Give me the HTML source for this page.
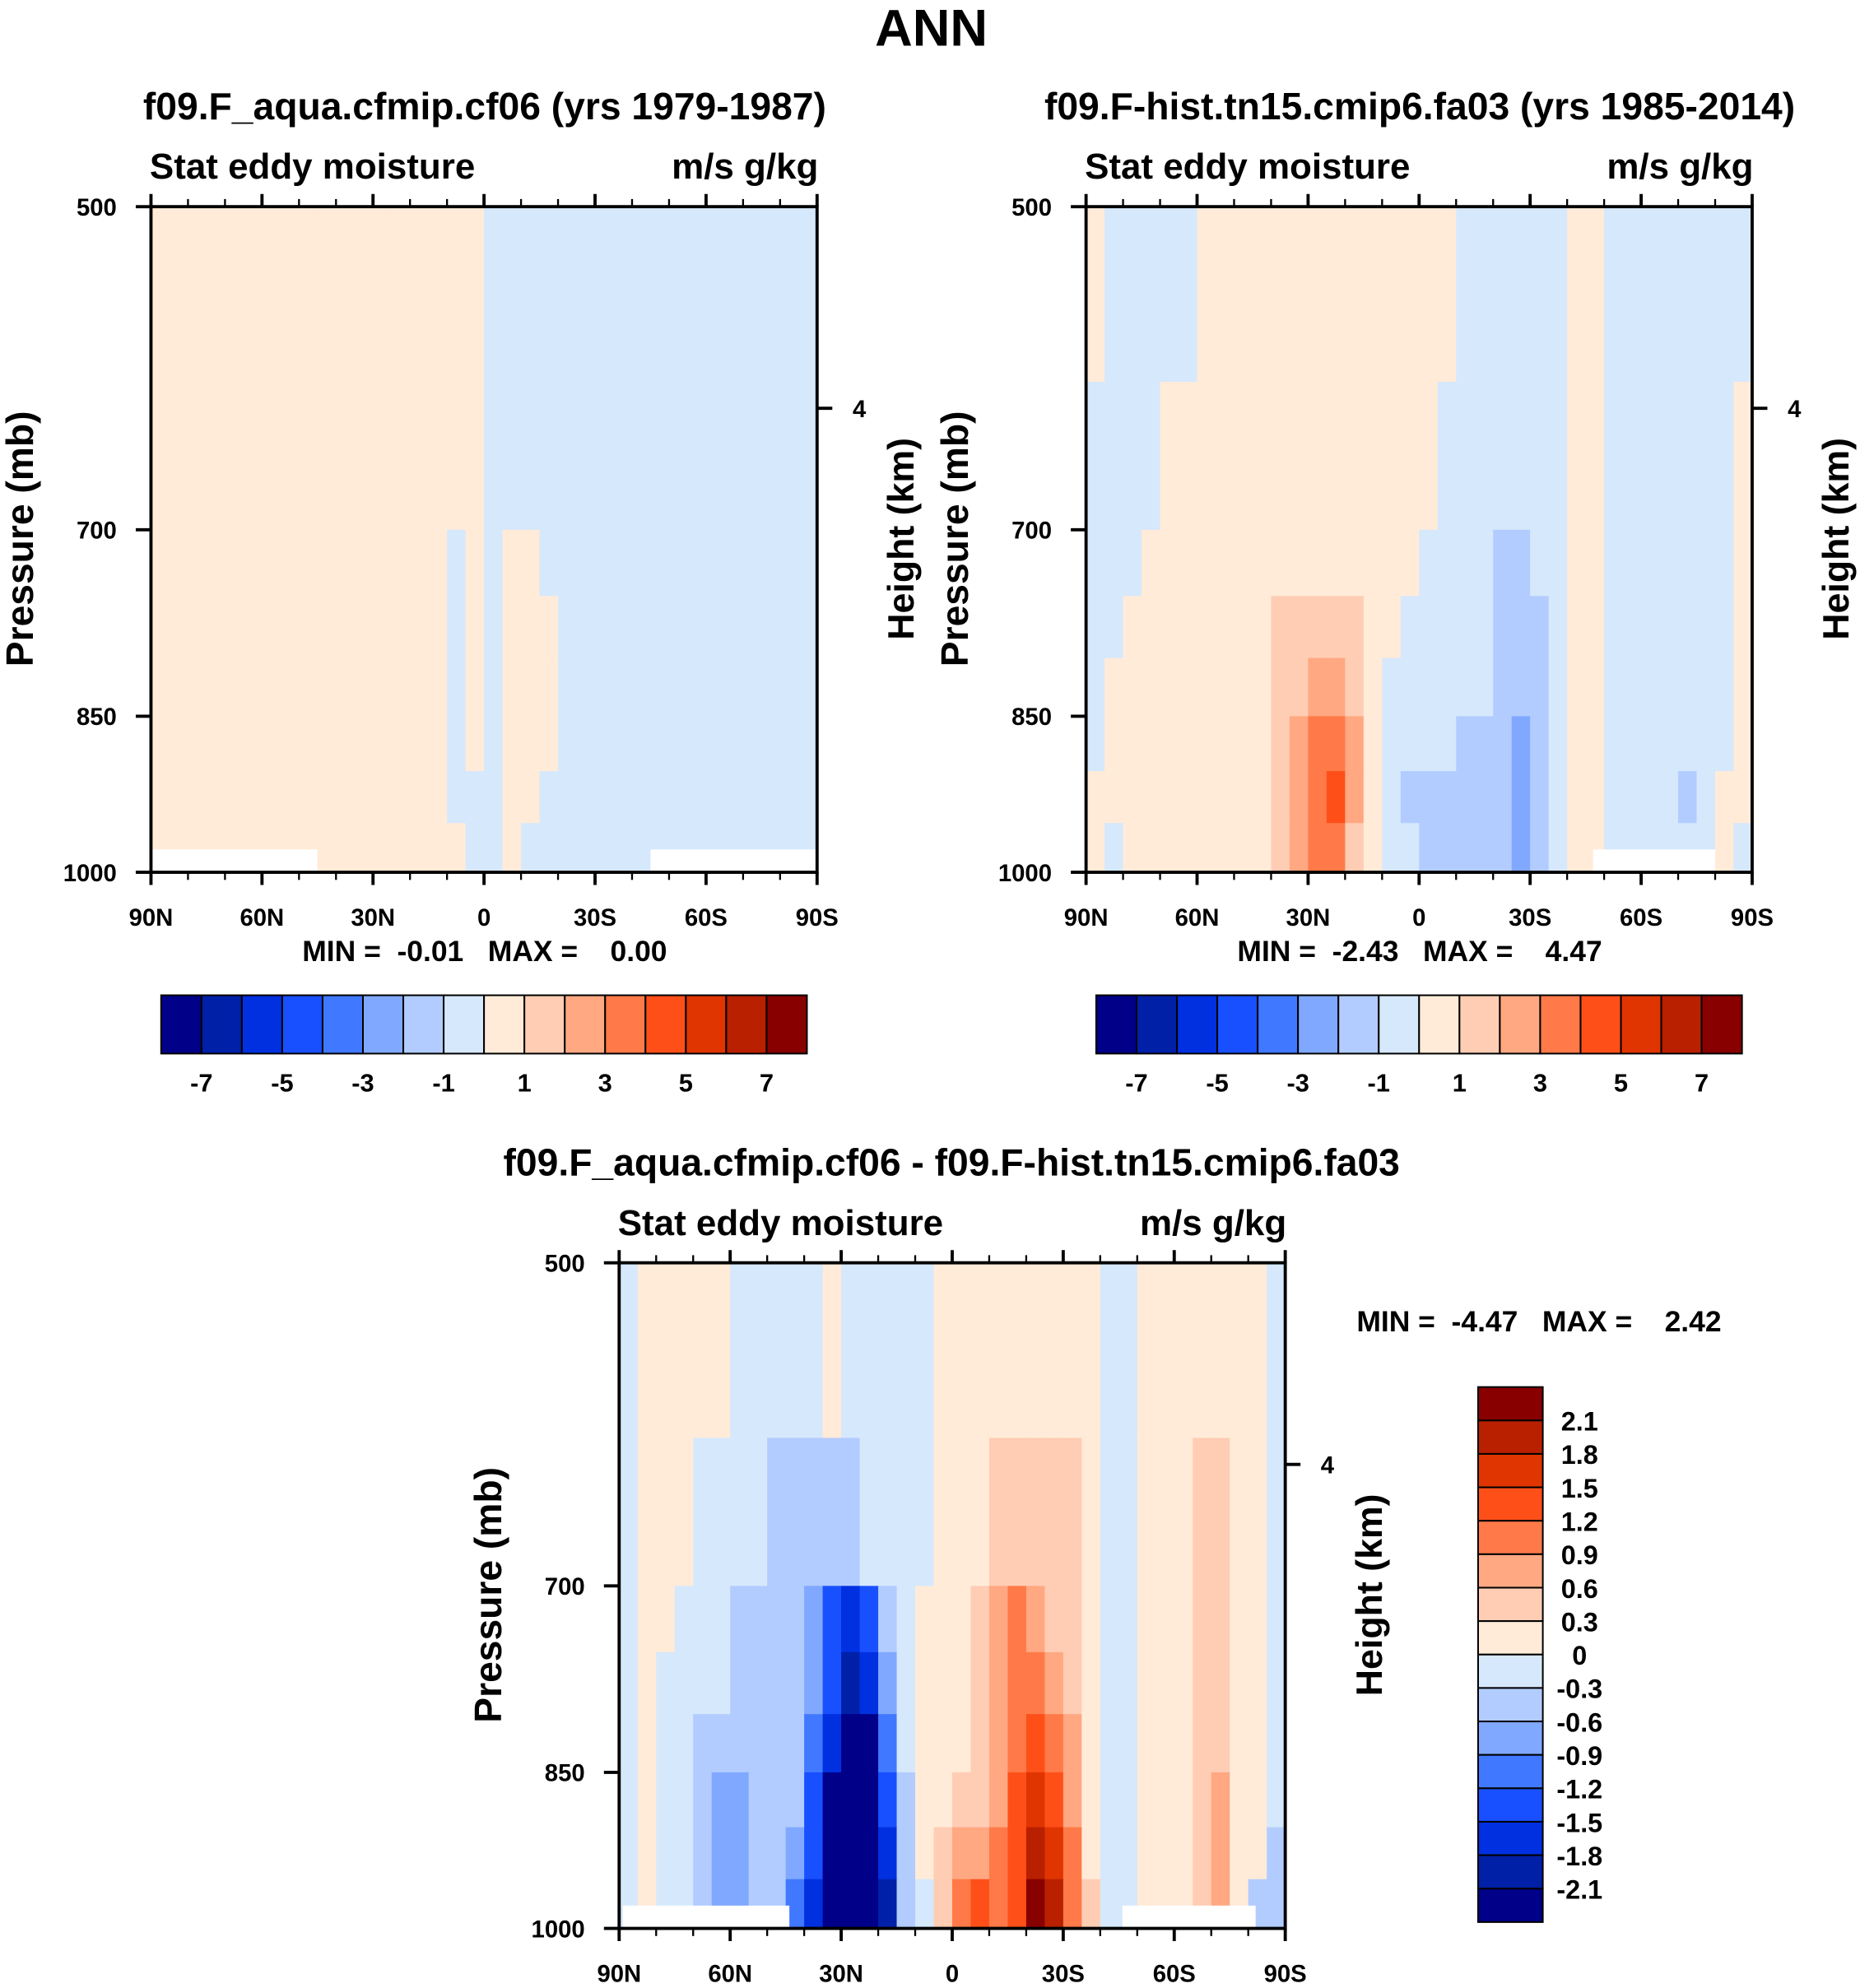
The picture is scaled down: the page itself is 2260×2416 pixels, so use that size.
<!DOCTYPE html>
<html><head><meta charset="utf-8"><style>
html,body{margin:0;padding:0;background:#fff;}
svg{display:block;}
text{font-family:"Liberation Sans",Arial,sans-serif;font-weight:bold;fill:#000;white-space:pre;}
</style></head><body>
<svg id="chart" xmlns="http://www.w3.org/2000/svg" width="2260" height="2416" viewBox="0 0 1466 1568" preserveAspectRatio="none" xml:space="preserve">
<rect x="0" y="0" width="1466" height="1568" fill="#fff"/>
<text x="734" y="36" text-anchor="middle" font-size="41">ANN</text>
</svg>
<script>
// ---- data arrays ----
const latLabels = ["90N","60N","30N","0","30S","60S","90S"];
const latTicks = [90,60,30,0,-30,-60,-90];
const presTicks = [500,700,850,1000];
const presBounds = [500,600,700,750,800,850,900,950,1000];
const levels12 = [-7,-6,-5,-4,-3,-2,-1,0,1,2,3,4,5,6,7];
const levels3 = [-2.1,-1.8,-1.5,-1.2,-0.9,-0.6,-0.3,0,0.3,0.6,0.9,1.2,1.5,1.8,2.1];
const labels12 = ["-7","-5","-3","-1","1","3","5","7"];
const labels3 = ["2.1","1.8","1.5","1.2","0.9","0.6","0.3","0","-0.3","-0.6","-0.9","-1.2","-1.5","-1.8","-2.1"];
const palette = ["#000088","#0020a8","#0030e0","#1850ff","#4078ff","#80a8ff","#b2ccff","#d6e8fc","#ffebd8","#ffcdb4","#ffa882","#ff7a48","#ff4f18","#e03500","#b82000","#880000"];

// panel 1 : 36 lat columns (90N->90S, 5deg), 8 pressure rows
const p1Values = [
[.5,.5,.5,.5,.5,.5,.5,.5,.5,.5,.5,.5,.5,.5,.5,.5,.5,.5,-.5,-.5,-.5,-.5,-.5,-.5,-.5,-.5,-.5,-.5,-.5,-.5,-.5,-.5,-.5,-.5,-.5,-.5],
[.5,.5,.5,.5,.5,.5,.5,.5,.5,.5,.5,.5,.5,.5,.5,.5,.5,.5,-.5,-.5,-.5,-.5,-.5,-.5,-.5,-.5,-.5,-.5,-.5,-.5,-.5,-.5,-.5,-.5,-.5,-.5],
[.5,.5,.5,.5,.5,.5,.5,.5,.5,.5,.5,.5,.5,.5,.5,.5,-.5,.5,-.5,.5,.5,-.5,-.5,-.5,-.5,-.5,-.5,-.5,-.5,-.5,-.5,-.5,-.5,-.5,-.5,-.5],
[.5,.5,.5,.5,.5,.5,.5,.5,.5,.5,.5,.5,.5,.5,.5,.5,-.5,.5,-.5,.5,.5,.5,-.5,-.5,-.5,-.5,-.5,-.5,-.5,-.5,-.5,-.5,-.5,-.5,-.5,-.5],
[.5,.5,.5,.5,.5,.5,.5,.5,.5,.5,.5,.5,.5,.5,.5,.5,-.5,.5,-.5,.5,.5,.5,-.5,-.5,-.5,-.5,-.5,-.5,-.5,-.5,-.5,-.5,-.5,-.5,-.5,-.5],
[.5,.5,.5,.5,.5,.5,.5,.5,.5,.5,.5,.5,.5,.5,.5,.5,-.5,.5,-.5,.5,.5,.5,-.5,-.5,-.5,-.5,-.5,-.5,-.5,-.5,-.5,-.5,-.5,-.5,-.5,-.5],
[.5,.5,.5,.5,.5,.5,.5,.5,.5,.5,.5,.5,.5,.5,.5,.5,-.5,-.5,-.5,.5,.5,-.5,-.5,-.5,-.5,-.5,-.5,-.5,-.5,-.5,-.5,-.5,-.5,-.5,-.5,-.5],
[.5,.5,.5,.5,.5,.5,.5,.5,.5,.5,.5,.5,.5,.5,.5,.5,.5,-.5,-.5,.5,-.5,-.5,-.5,-.5,-.5,-.5,-.5,-.5,-.5,-.5,-.5,-.5,-.5,-.5,-.5,-.5]
];
const p2Values = [
[.5,-.5,-.5,-.5,-.5,-.5,.5,.5,.5,.5,.5,.5,.5,.5,.5,.5,.5,.5,.5,.5,-.5,-.5,-.5,-.5,-.5,-.5,.5,.5,-.5,-.5,-.5,-.5,-.5,-.5,-.5,-.5],
[-.5,-.5,-.5,-.5,.5,.5,.5,.5,.5,.5,.5,.5,.5,.5,.5,.5,.5,.5,.5,-.5,-.5,-.5,-.5,-.5,-.5,-.5,.5,.5,-.5,-.5,-.5,-.5,-.5,-.5,-.5,.5],
[-.5,-.5,-.5,.5,.5,.5,.5,.5,.5,.5,.5,.5,.5,.5,.5,.5,.5,.5,-.5,-.5,-.5,-.5,-1.5,-1.5,-.5,-.5,.5,.5,-.5,-.5,-.5,-.5,-.5,-.5,-.5,.5],
[-.5,-.5,.5,.5,.5,.5,.5,.5,.5,.5,1.5,1.5,1.5,1.5,1.5,.5,.5,-.5,-.5,-.5,-.5,-.5,-1.5,-1.5,-1.5,-.5,.5,.5,-.5,-.5,-.5,-.5,-.5,-.5,-.5,.5],
[-.5,.5,.5,.5,.5,.5,.5,.5,.5,.5,1.5,1.5,2.5,2.5,1.5,.5,-.5,-.5,-.5,-.5,-.5,-.5,-1.5,-1.5,-1.5,-.5,.5,.5,-.5,-.5,-.5,-.5,-.5,-.5,-.5,.5],
[-.5,.5,.5,.5,.5,.5,.5,.5,.5,.5,1.5,2.5,3.5,3.5,2.5,.5,-.5,-.5,-.5,-.5,-1.5,-1.5,-1.5,-2.5,-1.5,-.5,.5,.5,-.5,-.5,-.5,-.5,-.5,-.5,-.5,.5],
[.5,.5,.5,.5,.5,.5,.5,.5,.5,.5,1.5,2.5,3.5,4.5,2.5,.5,-.5,-1.5,-1.5,-1.5,-1.5,-1.5,-1.5,-2.5,-1.5,-.5,.5,.5,-.5,-.5,-.5,-.5,-1.5,-.5,.5,.5],
[.5,-.5,.5,.5,.5,.5,.5,.5,.5,.5,1.5,2.5,3.5,3.5,1.5,.5,-.5,-.5,-1.5,-1.5,-1.5,-1.5,-1.5,-2.5,-1.5,-.5,.5,.5,-.5,-.5,-.5,-.5,-.5,-.5,.5,-.5]
];
const p3Values = [
[-.15,.15,.15,.15,.15,.15,-.15,-.15,-.15,-.15,-.15,.15,-.15,-.15,-.15,-.15,-.15,.15,.15,.15,.15,.15,.15,.15,.15,.15,-.15,-.15,.15,.15,.15,.15,.15,.15,.15,-.15],
[-.15,.15,.15,.15,-.15,-.15,-.15,-.15,-.45,-.45,-.45,-.45,-.45,-.15,-.15,-.15,-.15,.15,.15,.15,.45,.45,.45,.45,.45,.15,-.15,-.15,.15,.15,.15,.45,.45,.15,.15,-.15],
[-.15,.15,.15,-.15,-.15,-.15,-.45,-.45,-.45,-.45,-.75,-1.35,-1.65,-1.35,-.45,-.15,.15,.15,.15,.45,.75,1.05,.75,.45,.45,.15,-.15,-.15,.15,.15,.15,.45,.45,.15,.15,-.15],
[-.15,.15,-.15,-.15,-.15,-.15,-.45,-.45,-.45,-.45,-.75,-1.35,-1.95,-1.65,-.75,-.15,.15,.15,.15,.45,.75,1.05,1.05,.75,.45,.15,-.15,-.15,.15,.15,.15,.45,.45,.15,.15,-.15],
[-.15,.15,-.15,-.15,-.45,-.45,-.45,-.45,-.45,-.45,-1.05,-1.65,-2.25,-2.25,-1.05,-.15,.15,.15,.15,.45,.75,1.05,1.35,1.05,.75,.15,-.15,-.15,.15,.15,.15,.45,.45,.15,.15,-.15],
[-.15,.15,-.15,-.15,-.45,-.75,-.75,-.45,-.45,-.45,-1.35,-2.25,-2.25,-2.25,-1.35,-.45,.15,.15,.45,.45,.75,1.35,1.65,1.35,.75,.15,-.15,-.15,.15,.15,.15,.45,.75,.15,.15,-.15],
[-.15,.15,-.15,-.15,-.45,-.75,-.75,-.45,-.45,-.75,-1.35,-2.25,-2.25,-2.25,-1.65,-.45,.15,.45,.75,.75,1.05,1.35,1.95,1.65,1.05,.15,-.15,-.15,.15,.15,.15,.45,.75,.15,.15,-.45],
[-.15,.15,-.15,-.15,-.45,-.75,-.75,-.45,-.45,-1.05,-1.65,-2.25,-2.25,-2.25,-1.95,-.45,-.15,.45,1.05,1.35,1.05,1.35,2.25,1.95,1.05,.45,-.15,-.15,.15,.15,.15,.45,.75,.15,-.45,-.45]
];
const p1MinMax = ["-0.01","0.00"];
const p2MinMax = ["-2.43","4.47"];
const p3MinMax = ["-4.47","2.42"];

// ---- rendering ----
const NS = "http://www.w3.org/2000/svg";
const svg = document.getElementById("chart");
const PW = 525, PH = 525;
function mk(tag, attrs, parent){const e=document.createElementNS(NS,tag);for(const k in attrs)e.setAttribute(k,attrs[k]);(parent||svg).appendChild(e);return e;}
function xScale(x0, lat){return x0 + (90 - lat) / 180 * PW;}
function yScale(y0, p){return y0 + Math.log(p/500)/Math.log(2)*PH;}
function colorIdx(v, levels){let i=0;while(i<levels.length && v>=levels[i])i++;return i;}

function drawPanel(x0, y0, values, levels, name, whites){
  const g = mk("g",{});
  
  
  for(let r=0;r<values.length;r++){
    const ya=yScale(y0,presBounds[r]), yb=yScale(y0,presBounds[r+1]);
    for(let c=0;c<values[r].length;c++){
      const xa=xScale(x0,90-5*c), xb=xScale(x0,90-5*(c+1));
      const cell = mk("rect",{x:xa,y:ya,width:xb-xa+0.6,height:yb-ya+0.6,fill:palette[colorIdx(values[r][c],levels)]},g);
      
      
    }
  }
  whites.forEach(w=>{
    const wr = mk("rect",{x:xScale(x0,w[0]),y:y0+PH-18,width:xScale(x0,w[1])-xScale(x0,w[0]),height:18,fill:"#fff"},g);
    
    
  });
  const frame = mk("rect",{x:x0,y:y0,width:PW,height:PH,fill:"none",stroke:"#000","stroke-width":2.5});
  
  
  for(let lat=90;lat>=-90;lat-=10){
    const x=xScale(x0,lat), major=(lat%30===0);
    const len = major?10:6;
    mk("line",{x1:x,y1:y0,x2:x,y2:y0-len,stroke:"#000","stroke-width":major?2.5:1.5});
    mk("line",{x1:x,y1:y0+PH,x2:x,y2:y0+PH+len,stroke:"#000","stroke-width":major?2.5:1.5});
  }
  latTicks.forEach((lat,i)=>{
    const t=mk("text",{x:xScale(x0,lat),y:y0+PH+42,"text-anchor":"middle","font-size":19});
    t.textContent=latLabels[i];
    
    
  });
  presTicks.forEach(p=>{
    const y=yScale(y0,p);
    mk("line",{x1:x0,y1:y,x2:x0-12,y2:y,stroke:"#000","stroke-width":2.5});
    const t=mk("text",{x:x0-27,y:y+7,"text-anchor":"end","font-size":19});
    t.textContent=p;
    
    
  });
  const hy = y0+159;
  mk("line",{x1:x0+PW,y1:hy,x2:x0+PW+12,y2:hy,stroke:"#000","stroke-width":2.5});
  const ht=mk("text",{x:x0+PW+28,y:hy+7,"text-anchor":"start","font-size":19}); ht.textContent="4";
  
  
  const s1=mk("text",{x:x0-1,y:y0-22,"font-size":28.5}); s1.textContent="Stat eddy moisture";
  
  
  const s2=mk("text",{x:x0+PW+1,y:y0-22,"text-anchor":"end","font-size":28.5}); s2.textContent="m/s g/kg";
  
  
  const yl=mk("text",{x:0,y:0,"text-anchor":"middle","font-size":30,transform:`translate(${x0-93},${y0+262}) rotate(-90)`}); yl.textContent="Pressure (mb)";
  
  
  const hl=mk("text",{x:0,y:0,"text-anchor":"middle","font-size":29,transform:`translate(${x0+PW+76},${y0+262}) rotate(-90)`}); hl.textContent="Height (km)";
  
  
}

function title(x,y,txt,name,fs){const t=mk("text",{x:x,y:y,"text-anchor":"middle","font-size":fs||30});t.textContent=txt;return t;}

function hColorbar(x0,y0,w,h,name){
  const g=mk("g",{});
  
  
  const bw=w/palette.length;
  palette.forEach((c,i)=>{
    const b=mk("rect",{x:x0+i*bw,y:y0,width:bw,height:h,fill:c,stroke:"#000","stroke-width":1.3},g);
    
    
  });
  labels12.forEach((l,i)=>{
    const t=mk("text",{x:x0+(1+2*i)*bw,y:y0+h+30,"text-anchor":"middle","font-size":20},g);t.textContent=l;
    
    
  });
}
function vColorbar(x0,y0,w,h,name){
  const g=mk("g",{});
  
  
  const bh=h/palette.length;
  palette.slice().reverse().forEach((c,i)=>{
    const b=mk("rect",{x:x0,y:y0+i*bh,width:w,height:bh,fill:c,stroke:"#000","stroke-width":1.3},g);
    
    
  });
  labels3.forEach((l,i)=>{
    const t=mk("text",{x:x0+w+29,y:y0+(i+1)*bh+8,"text-anchor":"middle","font-size":21},g);t.textContent=l;
    
    
  });
}

title(382,94,"f09.F_aqua.cfmip.cf06 (yrs 1979-1987)","panel1-title");
drawPanel(119,163,p1Values,levels12,"panel1",[[90,45],[-45,-90]]);
title(382,758,"MIN =  "+p1MinMax[0]+"   MAX =    "+p1MinMax[1],"panel1-minmax",23);
hColorbar(127,785,509,46,"panel1-colorbar");
title(1119,94,"f09.F-hist.tn15.cmip6.fa03 (yrs 1985-2014)","panel2-title");
drawPanel(856,163,p2Values,levels12,"panel2",[[-47,-80]]);
title(1119,758,"MIN =  "+p2MinMax[0]+"   MAX =    "+p2MinMax[1],"panel2-minmax",23);
hColorbar(864,785,509,46,"panel2-colorbar");
title(750,927,"f09.F_aqua.cfmip.cf06 - f09.F-hist.tn15.cmip6.fa03","panel3-title");
drawPanel(488,996,p3Values,levels3,"panel3",[[89,44],[-46,-82]]);
title(1213,1050,"MIN =  "+p3MinMax[0]+"   MAX =    "+p3MinMax[1],"panel3-minmax",23);
vColorbar(1165,1094,51,422,"panel3-colorbar");
</script>
</body></html>
